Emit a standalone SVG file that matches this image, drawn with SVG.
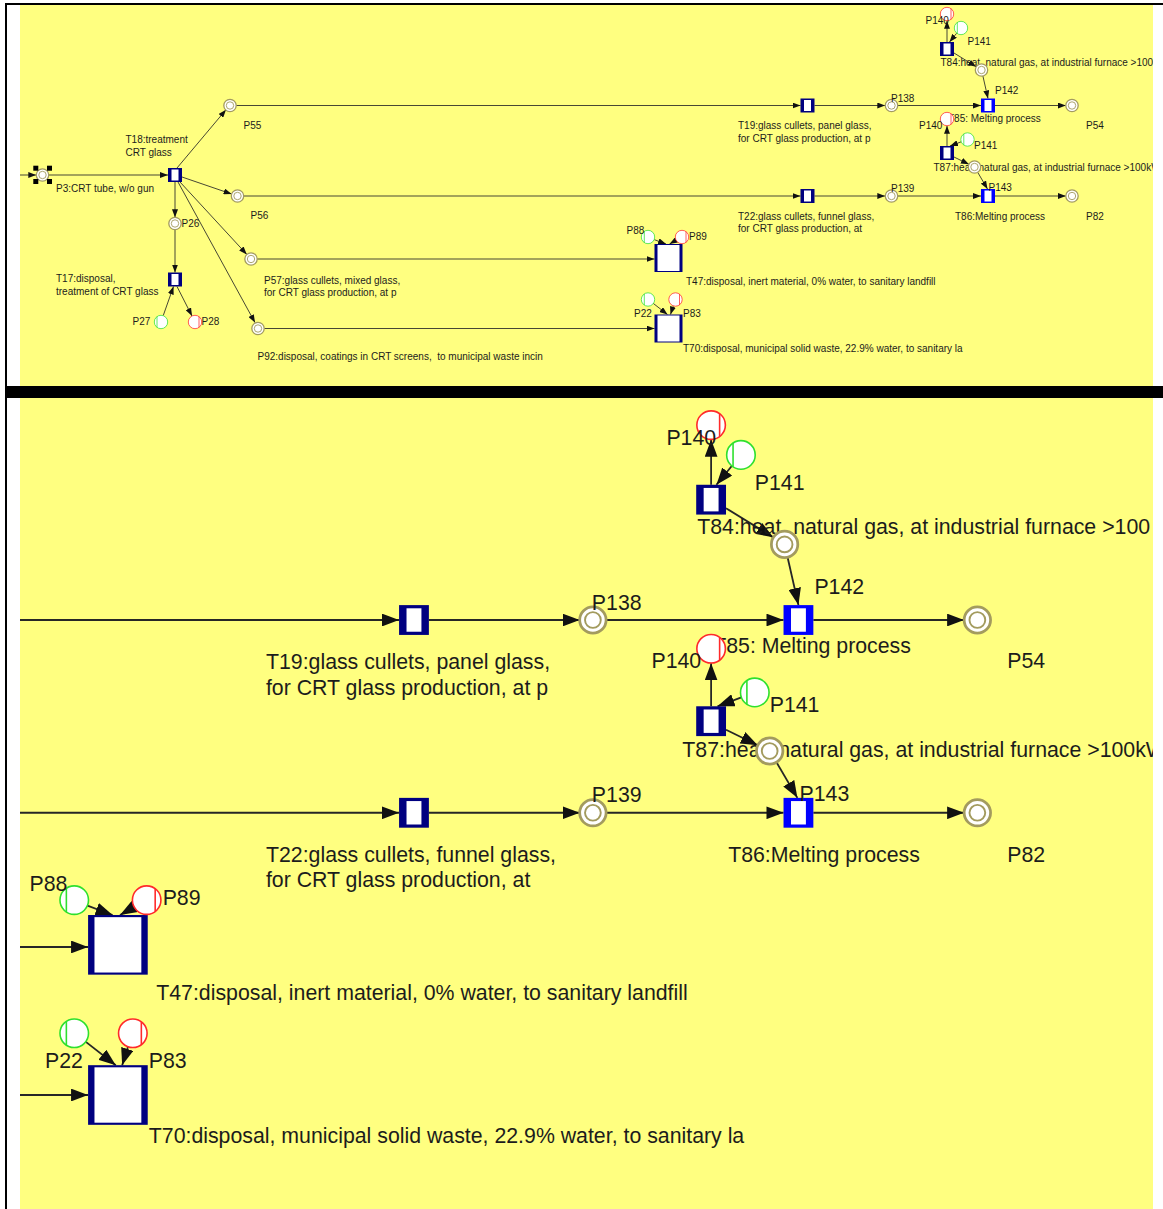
<svg xmlns="http://www.w3.org/2000/svg" width="1163" height="1209" viewBox="0 0 1163 1209">
<style>
.pl{fill:#fff;stroke:#a39b5e;stroke-width:1.3}
.pi{fill:none;stroke:#a39b5e;stroke-width:0.9}
.nv{fill:#000080}
.bl{fill:#0000ff}
.wh{fill:#fff}
.gr{fill:#fff;stroke:#2ee02e;stroke-width:0.75}
.grl{stroke:#2ee02e;stroke-width:0.75}
.rd{fill:#fff;stroke:#ff2a2a;stroke-width:0.75}
.rdl{stroke:#ff2a2a;stroke-width:0.75}
.arc{fill:none;stroke:#262626;stroke-width:0.85;marker-end:url(#ah)}
.t{font-family:"Liberation Sans",Arial,sans-serif;font-size:10px;fill:#1c1c1c}
.hd{fill:#000}
</style>
<defs>
<marker id="ah" markerUnits="userSpaceOnUse" markerWidth="8" markerHeight="6" refX="8" refY="3" orient="auto"><path d="M0,0 L8,3 L0,6 z" fill="#111"/></marker>
<clipPath id="cpT"><rect x="20" y="5" width="1133" height="381"/></clipPath>
<clipPath id="cpB"><rect x="20" y="398" width="1133" height="811"/></clipPath>
</defs>
<rect x="0" y="0" width="1163" height="1209" fill="#fff"/>
<rect x="20" y="5" width="1133" height="381" fill="#ffff80"/>
<rect x="20" y="398" width="1133" height="811" fill="#ffff80"/>
<rect x="5" y="3" width="1158" height="2" fill="#000"/>
<rect x="5" y="3" width="2" height="1206" fill="#000"/>
<rect x="5" y="386" width="1158" height="12" fill="#000"/>

<g id="top" clip-path="url(#cpT)">
<g id="connectors">
<path id="c1" class="arc" d="M20,175 L36.3,175"/>
<path id="c2" class="arc" d="M48.7,175 L168,175"/>
<path id="c3" class="arc" d="M177,168 L226,109.7"/>
<path id="c4" class="arc" d="M182,177 L231.6,194"/>
<path id="c5" class="arc" d="M175,182 L175,217.3"/>
<path id="c6" class="arc" d="M180,182 L246.8,254.4"/>
<path id="c7" class="arc" d="M178,182 L255,322.6"/>
<path id="c8" class="arc" d="M175,229.7 L175,272.5"/>
<path id="c9" class="arc" d="M163.2,315.7 L173.5,286.5"/>
<path id="c10" class="arc" d="M177,286.5 L192,316"/>
<path id="c11" class="arc" d="M236.2,105.5 L800.5,105.5"/>
<path id="c12" class="arc" d="M814.5,105.5 L885.3,105.5"/>
<path id="c13" class="arc" d="M897.7,105.5 L981,105.5"/>
<path id="c14" class="arc" d="M995,105.5 L1065.8,105.5"/>
<path id="c15" class="arc" d="M243.7,196 L800.5,196"/>
<path id="c16" class="arc" d="M814.5,196 L885.3,196"/>
<path id="c17" class="arc" d="M897.7,196 L981,196"/>
<path id="c18" class="arc" d="M995,196 L1065.8,196"/>
<path id="c19" class="arc" d="M257.2,259 L654.5,259"/>
<path id="c20" class="arc" d="M264.2,328.5 L654.5,328.5"/>
<path id="c21" class="arc" d="M654.2,239.6 L666,244"/>
<path id="c22" class="arc" d="M676.1,240.2 L669.5,244"/>
<path id="c23" class="arc" d="M653,303.2 L667.5,314.5"/>
<path id="c24" class="arc" d="M673.4,305.3 L670.5,314.5"/>
<path id="c25" class="arc" d="M947,42 L947,20.8"/>
<path id="c26" class="arc" d="M956.7,33.2 L949.5,42"/>
<path id="c27" class="arc" d="M954,53 L976.2,66.7"/>
<path id="c28" class="arc" d="M982.9,76 L988,98.5"/>
<path id="c29" class="arc" d="M947,146 L947,125.8"/>
<path id="c30" class="arc" d="M961.2,141.8 L950,146"/>
<path id="c31" class="arc" d="M954,157 L968.9,164.3"/>
<path id="c32" class="arc" d="M977.7,172.3 L987.5,189"/>
</g>
<g id="P3"><circle class="pl" cx="42.5" cy="175" r="6.2"/><circle class="pi" cx="42.5" cy="175" r="3.7"/>
<rect class="hd" x="33.3" y="165.7" width="5" height="5"/><rect class="hd" x="47" y="165.7" width="5" height="5"/><rect class="hd" x="33.3" y="179" width="5" height="5"/><rect class="hd" x="47" y="179" width="5" height="5"/>
<text class="t" x="56" y="191.5">P3:CRT tube, w/o gun</text></g>
<g id="T18"><rect class="nv" x="168" y="168" width="14" height="14"/><rect class="wh" x="171.5" y="169.5" width="7" height="11"/><text class="t" x="125.5" y="142.5">T18:treatment</text><text class="t" x="125.5" y="155.5">CRT glass</text></g>
<g id="P55"><circle class="pl" cx="230" cy="105.5" r="6.2"/><circle class="pi" cx="230" cy="105.5" r="3.7"/><text class="t" x="243.5" y="129">P55</text></g>
<g id="P56"><circle class="pl" cx="237.5" cy="196" r="6.2"/><circle class="pi" cx="237.5" cy="196" r="3.7"/><text class="t" x="250.5" y="219">P56</text></g>
<g id="P26"><circle class="pl" cx="175" cy="223.5" r="6.2"/><circle class="pi" cx="175" cy="223.5" r="3.7"/><text class="t" x="181.5" y="226.5">P26</text></g>
<g id="T17"><rect class="nv" x="168" y="272.5" width="14" height="14"/><rect class="wh" x="171.5" y="274" width="7" height="11"/><text class="t" x="56" y="282">T17:disposal,</text><text class="t" x="56" y="295">treatment of CRT glass</text></g>
<g id="P27"><circle class="gr" cx="161" cy="322" r="6.7"/><line class="grl" x1="157" y1="316.6" x2="157" y2="327.4"/><text class="t" x="132.5" y="324.5">P27</text></g>
<g id="P28"><circle class="rd" cx="195" cy="322" r="6.7"/><line class="rdl" x1="199" y1="316.6" x2="199" y2="327.4"/><text class="t" x="201.5" y="324.5">P28</text></g>
<g id="P57"><circle class="pl" cx="251" cy="259" r="6.2"/><circle class="pi" cx="251" cy="259" r="3.7"/><text class="t" x="264" y="283.5">P57:glass cullets, mixed glass,</text><text class="t" x="264" y="296">for CRT glass production, at p</text></g>
<g id="P92"><circle class="pl" cx="258" cy="328.5" r="6.2"/><circle class="pi" cx="258" cy="328.5" r="3.7"/><text class="t" x="257.5" y="359.5" xml:space="preserve">P92:disposal, coatings in CRT screens,  to municipal waste incin</text></g>
<g id="T19"><rect class="nv" x="800.5" y="98.5" width="14" height="14"/><rect class="wh" x="804" y="100" width="7" height="11"/><text class="t" x="738" y="129">T19:glass cullets, panel glass,</text><text class="t" x="738" y="141.5">for CRT glass production, at p</text></g>
<g id="T22"><rect class="nv" x="800.5" y="189" width="14" height="14"/><rect class="wh" x="804" y="190.5" width="7" height="11"/><text class="t" x="738" y="219.5">T22:glass cullets, funnel glass,</text><text class="t" x="738" y="232">for CRT glass production, at</text></g>
<g id="P138"><circle class="pl" cx="891.5" cy="105.5" r="6.2"/><circle class="pi" cx="891.5" cy="105.5" r="3.7"/><text class="t" x="891" y="101.5">P138</text></g>
<g id="P139"><circle class="pl" cx="891.5" cy="196" r="6.2"/><circle class="pi" cx="891.5" cy="196" r="3.7"/><text class="t" x="891" y="191.5">P139</text></g>
<g id="T85"><rect class="bl" x="981" y="98.5" width="14" height="14"/><rect class="wh" x="984.5" y="100" width="7" height="11"/><text class="t" x="948" y="121.5">T85: Melting process</text></g>
<g id="T86"><rect class="bl" x="981" y="189" width="14" height="14"/><rect class="wh" x="984.5" y="190.5" width="7" height="11"/><text class="t" x="955" y="219.5">T86:Melting process</text></g>
<g id="P54"><circle class="pl" cx="1072" cy="105.5" r="6.2"/><circle class="pi" cx="1072" cy="105.5" r="3.7"/><text class="t" x="1086" y="128.5">P54</text></g>
<g id="P82"><circle class="pl" cx="1072" cy="196" r="6.2"/><circle class="pi" cx="1072" cy="196" r="3.7"/><text class="t" x="1086" y="219.5">P82</text></g>
<g id="T84"><rect class="nv" x="940" y="42" width="14" height="14"/><rect class="wh" x="943.5" y="43.5" width="7" height="11"/><text class="t" x="940.5" y="65.5">T84:heat, natural gas, at industrial furnace &gt;100</text></g>
<g id="P140a"><circle class="rd" cx="947" cy="14" r="6.7"/><line class="rdl" x1="951" y1="8.6" x2="951" y2="19.4"/><text class="t" x="925.5" y="24">P140</text></g>
<g id="P141a"><circle class="gr" cx="961" cy="28" r="6.7"/><line class="grl" x1="957.3" y1="22.4" x2="957.3" y2="33.6"/><text class="t" x="967.5" y="45">P141</text></g>
<g id="P142"><circle class="pl" cx="981.5" cy="70" r="6.2"/><circle class="pi" cx="981.5" cy="70" r="3.7"/><text class="t" x="995" y="94">P142</text></g>
<g id="T87"><rect class="nv" x="940" y="146" width="14" height="14"/><rect class="wh" x="943.5" y="147.5" width="7" height="11"/><text class="t" x="933.5" y="170.5">T87:heat, natural gas, at industrial furnace &gt;100kW</text></g>
<g id="P140b"><circle class="rd" cx="947" cy="119" r="6.7"/><line class="rdl" x1="951" y1="113.6" x2="951" y2="124.4"/><text class="t" x="919" y="128.5">P140</text></g>
<g id="P141b"><circle class="gr" cx="967.5" cy="139.5" r="6.7"/><line class="grl" x1="963.8" y1="133.9" x2="963.8" y2="145.1"/><text class="t" x="974" y="149">P141</text></g>
<g id="P143"><circle class="pl" cx="974.5" cy="167" r="6.2"/><circle class="pi" cx="974.5" cy="167" r="3.7"/><text class="t" x="988.5" y="191">P143</text></g>
<g id="T47"><rect class="nv" x="654.5" y="244" width="28" height="28"/><rect class="wh" x="657.5" y="245" width="22" height="26"/><text class="t" x="686" y="284.5">T47:disposal, inert material, 0% water, to sanitary landfill</text></g>
<g id="P88"><circle class="gr" cx="648" cy="237" r="6.7"/><line class="grl" x1="644.3" y1="231.4" x2="644.3" y2="242.6"/><text class="t" x="626.5" y="234">P88</text></g>
<g id="P89"><circle class="rd" cx="682" cy="237" r="6.7"/><line class="rdl" x1="686" y1="231.6" x2="686" y2="242.4"/><text class="t" x="689" y="240">P89</text></g>
<g id="T70"><rect class="nv" x="654.5" y="314.5" width="28" height="28"/><rect class="wh" x="657.5" y="315.5" width="22" height="26"/><text class="t" x="683" y="351.5">T70:disposal, municipal solid waste, 22.9% water, to sanitary la</text></g>
<g id="P22"><circle class="gr" cx="648" cy="299.5" r="6.7"/><line class="grl" x1="644.3" y1="293.9" x2="644.3" y2="305.1"/><text class="t" x="634" y="317">P22</text></g>
<g id="P83"><circle class="rd" cx="675.5" cy="299.5" r="6.7"/><line class="rdl" x1="679.5" y1="294.1" x2="679.5" y2="304.9"/><text class="t" x="683" y="317">P83</text></g>
</g>

<g id="zoomview" clip-path="url(#cpB)">
<g transform="translate(-1306,395.3) scale(2.13)">
<g id="z-connectors">
<path class="arc" d="M600,105.5 L800.5,105.5"/>
<path class="arc" d="M814.5,105.5 L885.3,105.5"/>
<path class="arc" d="M897.7,105.5 L981,105.5"/>
<path class="arc" d="M995,105.5 L1065.8,105.5"/>
<path class="arc" d="M600,196 L800.5,196"/>
<path class="arc" d="M814.5,196 L885.3,196"/>
<path class="arc" d="M897.7,196 L981,196"/>
<path class="arc" d="M995,196 L1065.8,196"/>
<path class="arc" d="M600,259 L654.5,259"/>
<path class="arc" d="M600,328.5 L654.5,328.5"/>
<path class="arc" d="M654.2,239.6 L666,244"/>
<path class="arc" d="M676.1,240.2 L669.5,244"/>
<path class="arc" d="M653,303.2 L667.5,314.5"/>
<path class="arc" d="M673.4,305.3 L670.5,314.5"/>
<path class="arc" d="M947,42 L947,20.8"/>
<path class="arc" d="M956.7,33.2 L949.5,42"/>
<path class="arc" d="M954,53 L976.2,66.7"/>
<path class="arc" d="M982.9,76 L988,98.5"/>
<path class="arc" d="M947,146 L947,125.8"/>
<path class="arc" d="M961.2,141.8 L950,146"/>
<path class="arc" d="M954,157 L968.9,164.3"/>
<path class="arc" d="M977.7,172.3 L987.5,189"/>
</g>
<g id="z-T19"><rect class="nv" x="800.5" y="98.5" width="14" height="14"/><rect class="wh" x="804" y="100" width="7" height="11"/><text class="t" x="738" y="128.5">T19:glass cullets, panel glass,</text><text class="t" x="738" y="140.5">for CRT glass production, at p</text></g>
<g id="z-T22"><rect class="nv" x="800.5" y="189" width="14" height="14"/><rect class="wh" x="804" y="190.5" width="7" height="11"/><text class="t" x="738" y="219">T22:glass cullets, funnel glass,</text><text class="t" x="738" y="231">for CRT glass production, at</text></g>
<g id="z-P138"><circle class="pl" cx="891.5" cy="105.5" r="6.2"/><circle class="pi" cx="891.5" cy="105.5" r="3.7"/><text class="t" x="891" y="101">P138</text></g>
<g id="z-P139"><circle class="pl" cx="891.5" cy="196" r="6.2"/><circle class="pi" cx="891.5" cy="196" r="3.7"/><text class="t" x="891" y="191">P139</text></g>
<g id="z-T85"><rect class="bl" x="981" y="98.5" width="14" height="14"/><rect class="wh" x="984.5" y="100" width="7" height="11"/><text class="t" x="948" y="121">T85: Melting process</text></g>
<g id="z-T86"><rect class="bl" x="981" y="189" width="14" height="14"/><rect class="wh" x="984.5" y="190.5" width="7" height="11"/><text class="t" x="955" y="219">T86:Melting process</text></g>
<g id="z-P54"><circle class="pl" cx="1072" cy="105.5" r="6.2"/><circle class="pi" cx="1072" cy="105.5" r="3.7"/><text class="t" x="1086" y="128">P54</text></g>
<g id="z-P82"><circle class="pl" cx="1072" cy="196" r="6.2"/><circle class="pi" cx="1072" cy="196" r="3.7"/><text class="t" x="1086" y="219">P82</text></g>
<g id="z-T84"><rect class="nv" x="940" y="42" width="14" height="14"/><rect class="wh" x="943.5" y="43.5" width="7" height="11"/><text class="t" x="940.5" y="65">T84:heat, natural gas, at industrial furnace &gt;100</text></g>
<g id="z-P140a"><circle class="rd" cx="947" cy="14" r="6.7"/><line class="rdl" x1="951" y1="8.6" x2="951" y2="19.4"/><text class="t" x="926" y="23.5">P140</text></g>
<g id="z-P141a"><circle class="gr" cx="961" cy="28" r="6.7"/><line class="grl" x1="957.3" y1="22.4" x2="957.3" y2="33.6"/><text class="t" x="967.5" y="44.5">P141</text></g>
<g id="z-P142"><circle class="pl" cx="981.5" cy="70" r="6.2"/><circle class="pi" cx="981.5" cy="70" r="3.7"/><text class="t" x="995.5" y="93.5">P142</text></g>
<g id="z-T87"><rect class="nv" x="940" y="146" width="14" height="14"/><rect class="wh" x="943.5" y="147.5" width="7" height="11"/><text class="t" x="933.5" y="170">T87:heat, natural gas, at industrial furnace &gt;100kW</text></g>
<g id="z-P140b"><circle class="rd" cx="947" cy="119" r="6.7"/><line class="rdl" x1="951" y1="113.6" x2="951" y2="124.4"/><text class="t" x="919" y="128">P140</text></g>
<g id="z-P141b"><circle class="gr" cx="967.5" cy="139.5" r="6.7"/><line class="grl" x1="963.8" y1="133.9" x2="963.8" y2="145.1"/><text class="t" x="974.5" y="148.5">P141</text></g>
<g id="z-P143"><circle class="pl" cx="974.5" cy="167" r="6.2"/><circle class="pi" cx="974.5" cy="167" r="3.7"/><text class="t" x="988.5" y="190.5">P143</text></g>
<g id="z-T47"><rect class="nv" x="654.5" y="244" width="28" height="28"/><rect class="wh" x="657.5" y="245" width="22" height="26"/><text class="t" x="686.5" y="284">T47:disposal, inert material, 0% water, to sanitary landfill</text></g>
<g id="z-P88"><circle class="gr" cx="648" cy="237" r="6.7"/><line class="grl" x1="644.3" y1="231.4" x2="644.3" y2="242.6"/><text class="t" x="627" y="232.5">P88</text></g>
<g id="z-P89"><circle class="rd" cx="682" cy="237" r="6.7"/><line class="rdl" x1="686" y1="231.6" x2="686" y2="242.4"/><text class="t" x="689.5" y="239.5">P89</text></g>
<g id="z-T70"><rect class="nv" x="654.5" y="314.5" width="28" height="28"/><rect class="wh" x="657.5" y="315.5" width="22" height="26"/><text class="t" x="683" y="351">T70:disposal, municipal solid waste, 22.9% water, to sanitary la</text></g>
<g id="z-P22"><circle class="gr" cx="648" cy="299.5" r="6.7"/><line class="grl" x1="644.3" y1="293.9" x2="644.3" y2="305.1"/><text class="t" x="634.3" y="316">P22</text></g>
<g id="z-P83"><circle class="rd" cx="675.5" cy="299.5" r="6.7"/><line class="rdl" x1="679.5" y1="294.1" x2="679.5" y2="304.9"/><text class="t" x="683" y="316">P83</text></g>
</g>
</g>
</svg>
